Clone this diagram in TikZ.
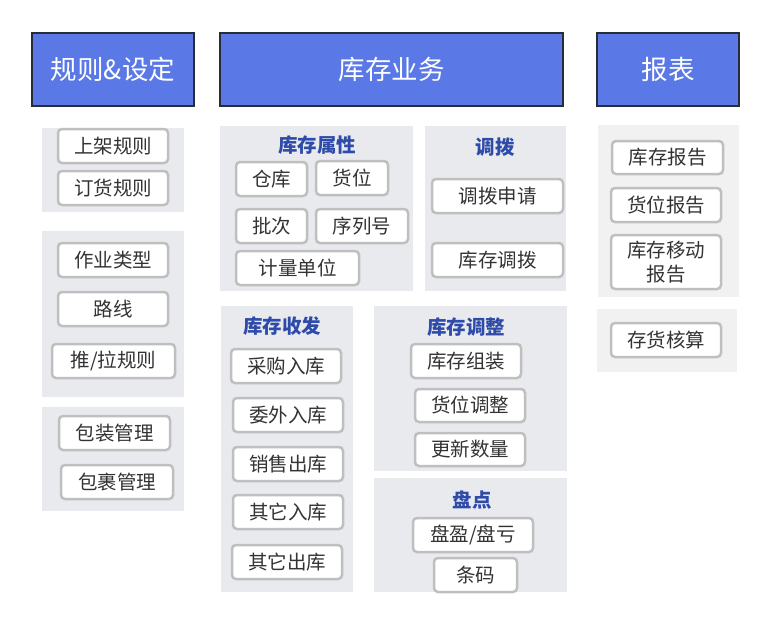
\documentclass[tikz,border=0pt]{standalone}
\usepackage{fontspec}
\newfontfamily\cjk{Noto Sans CJK SC}
\definecolor{hdrblue}{HTML}{5A79E7}
\definecolor{hdrborder}{HTML}{272C38}
\definecolor{panelgray}{HTML}{E8EAEE}
\definecolor{panellight}{HTML}{F1F1F1}
\definecolor{btnborder}{HTML}{BFBFBF}
\definecolor{ttlblue}{HTML}{2F4BA9}
\definecolor{txtgray}{HTML}{333333}
\newcommand\mybox[7]{\node[#6, minimum width={#4-#2}, minimum height={#5-#3}] (#1) at ({(#2+#4)/2},{(#3+#5)/2}) {#7};}
\begin{document}
\begin{tikzpicture}[x=1pt,y=-1pt,
  hdr/.style={fill=hdrblue, draw=hdrborder, line width=2.5pt, text=white, inner sep=0pt, font=\cjk\fontsize{26.5}{30}\selectfont},
  panel/.style={fill=panelgray, draw=none, inner sep=0pt},
  panellt/.style={fill=panellight, draw=none, inner sep=0pt},
  btn/.style={fill=white, draw=btnborder, line width=2.5pt, rounded corners=4pt, inner sep=0pt, text=txtgray, align=center, font=\cjk\fontsize{19.5}{23.5}\selectfont},
  ttl/.style={text=ttlblue, inner sep=0pt, font=\cjk\bfseries\fontsize{19.5}{23}\selectfont}]
\useasboundingbox[fill=white] (0,0) rectangle (770,624);
% headers
\mybox{h1}{32}{33}{194}{106}{hdr}{规则\&设定}
\mybox{h2}{220}{33}{563}{106}{hdr}{库存业务}
\mybox{h3}{597}{33}{739}{106}{hdr}{报表}
% left column panels
\mybox{pa}{42}{128}{184}{212}{panel}{}
\mybox{pb}{42}{231}{184}{397}{panel}{}
\mybox{pc}{42}{407}{184}{511}{panel}{}
\mybox{b1}{58}{129}{168}{163}{btn}{上架规则}
\mybox{b2}{58}{171}{168}{205}{btn}{订货规则}
\mybox{b3}{58}{243}{168}{277}{btn}{作业类型}
\mybox{b4}{58}{292}{168}{326}{btn}{路线}
\mybox{b5}{52}{344}{175}{378}{btn}{推/拉规则}
\mybox{b6}{59}{416}{170}{450}{btn}{包装管理}
\mybox{b7}{61}{465}{173}{499}{btn}{包裹管理}
% 库存属性
\mybox{pd}{220}{126}{413}{291}{panel}{}
\node[ttl] (t1) at (317,145) {库存属性};
\mybox{c1}{236}{162}{307}{196}{btn}{仓库}
\mybox{c2}{316}{161}{388}{195}{btn}{货位}
\mybox{c3}{236}{209}{307}{243}{btn}{批次}
\mybox{c4}{316}{209}{408}{243}{btn}{序列号}
\mybox{c5}{236}{251}{359}{285}{btn}{计量单位}
% 调拨
\mybox{pe}{425}{126}{566}{291}{panel}{}
\node[ttl] (t2) at (495,147) {调拨};
\mybox{d1}{432}{179}{563}{213}{btn}{调拨申请}
\mybox{d2}{432}{243}{563}{277}{btn}{库存调拨}
% 库存收发
\mybox{pf}{221}{306}{353}{592}{panel}{}
\node[ttl] (t3) at (282,326) {库存收发};
\mybox{e1}{231}{349}{341}{383}{btn}{采购入库}
\mybox{e2}{233}{398}{343}{432}{btn}{委外入库}
\mybox{e3}{233}{447}{343}{481}{btn}{销售出库}
\mybox{e4}{233}{495}{343}{529}{btn}{其它入库}
\mybox{e5}{232}{545}{342}{579}{btn}{其它出库}
% 库存调整
\mybox{pg}{374}{306}{567}{471}{panel}{}
\node[ttl] (t4) at (466,327) {库存调整};
\mybox{f1}{411}{344}{521}{378}{btn}{库存组装}
\mybox{f2}{415}{389}{525}{422}{btn}{货位调整}
\mybox{f3}{415}{433}{525}{466}{btn}{更新数量}
% 盘点
\mybox{ph}{374}{478}{567}{592}{panel}{}
\node[ttl] (t5) at (472,500) {盘点};
\mybox{g1}{413}{518}{533}{552}{btn}{盘盈/盘亏}
\mybox{g2}{434}{558}{517}{592}{btn}{条码}
% 报表
\mybox{pi}{598}{125}{739}{297}{panellt}{}
\mybox{pj}{597}{309}{737}{372}{panellt}{}
\mybox{r1}{612}{141}{723}{174}{btn}{库存报告}
\mybox{r2}{611}{188}{721}{222}{btn}{货位报告}
\mybox{r3}{611}{235}{721}{289}{btn}{库存移动\\报告}
\mybox{r4}{611}{323}{721}{357}{btn}{存货核算}
\end{tikzpicture}
\end{document}
